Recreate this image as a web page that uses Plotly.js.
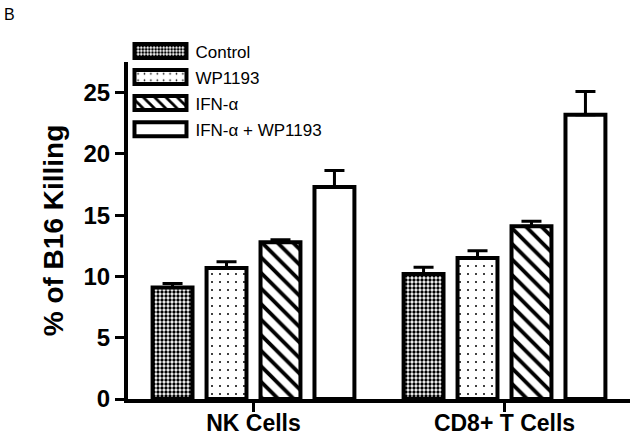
<!DOCTYPE html>
<html>
<head>
<meta charset="utf-8">
<script src="https://cdn.plot.ly/plotly-3.0.1.min.js"></script>
<style>html,body{margin:0;padding:0;background:#fff;}#chart{width:637px;height:436px;}</style>
</head>
<body>
<div id="chart"></div>
<script>
const categories = ['NK Cells', 'CD8+ T Cells'];
const seriesNames = ['Control', 'WP1193', 'IFN-α', 'IFN-α + WP1193'];
const control = [9.1, 10.2];
const controlErr = [0.33, 0.55];
const wp1193 = [10.7, 11.5];
const wp1193Err = [0.5, 0.6];
const ifn = [12.8, 14.1];
const ifnErr = [0.2, 0.4];
const combo = [17.3, 23.2];
const comboErr = [1.35, 1.9];
const yTicks = [0, 5, 10, 15, 20, 25];

const patterns = [
  {shape: '.', size: 4, solidity: 0.55, fgcolor: '#000', bgcolor: '#fff', fillmode: 'replace'},
  {shape: '.', size: 8, solidity: 0.05, fgcolor: '#000', bgcolor: '#fff', fillmode: 'replace'},
  {shape: '\\', size: 11, solidity: 0.35, fgcolor: '#000', bgcolor: '#fff', fillmode: 'replace'},
  {shape: '', fgcolor: '#000', bgcolor: '#fff'}
];
const values = [control, wp1193, ifn, combo];
const errs = [controlErr, wp1193Err, ifnErr, comboErr];

const traces = values.map((v, i) => ({
  type: 'bar',
  name: seriesNames[i],
  x: categories,
  y: v,
  legendgroup: 'g' + i,
  marker: {color: '#fff', line: {color: '#000', width: 4}, pattern: patterns[i]},
  error_y: {type: 'data', symmetric: false, array: errs[i], arrayminus: errs[i].map(() => 0),
            color: '#000', thickness: 3, width: 10}
}));

const font = 'Liberation Sans, Arial, sans-serif';
const layout = {
  width: 637, height: 436,
  margin: {l: 128, r: 7, t: 62, b: 37, pad: 0},
  paper_bgcolor: '#fff', plot_bgcolor: '#fff',
  barmode: 'group', bargap: 0.14, bargroupgap: 0.26,
  showlegend: true,
  legend: {x: -0.005, xanchor: 'left', y: 1.085, yanchor: 'top', bgcolor: 'rgba(0,0,0,0)',
           font: {family: font, size: 17, color: '#000'}, traceorder: 'grouped', tracegroupgap: 1,
           itemwidth: 60},
  font: {family: font, color: '#000'},
  xaxis: {type: 'category', range: [-0.5, 1.5], showline: true, linewidth: 4, linecolor: '#000',
          ticks: 'outside', ticklen: 9, tickwidth: 3, tickcolor: '#000', showgrid: false,
          ticklabelstandoff: -9,
          tickfont: {family: font, size: 23, weight: 'bold', color: '#000'}},
  yaxis: {range: [0, 27.5], tickvals: yTicks, showline: true, linewidth: 4, linecolor: '#000',
          ticks: 'outside', ticklen: 9, tickwidth: 3, tickcolor: '#000', showgrid: false, zeroline: false,
          tickfont: {family: font, size: 24, weight: 'bold', color: '#000'},
          title: {text: '% of B16 Killing', standoff: 13, font: {family: font, size: 28, weight: 'bold', color: '#000'}}},
  annotations: [{text: 'B', xref: 'paper', yref: 'paper', x: -126/502, y: 1 + 58/337, xanchor: 'left', yanchor: 'top',
                 showarrow: false, font: {family: font, size: 16, color: '#000'}}]
};

Plotly.newPlot('chart', traces, layout, {displayModeBar: false, staticPlot: true}).then(gd => {
  gd.querySelectorAll('.legend .legendpoints path').forEach(p => {
    p.setAttribute('d', 'M26,7H-26V-7H26Z');
    p.style.strokeWidth = '4px';
  });
});
</script>
</body>
</html>
